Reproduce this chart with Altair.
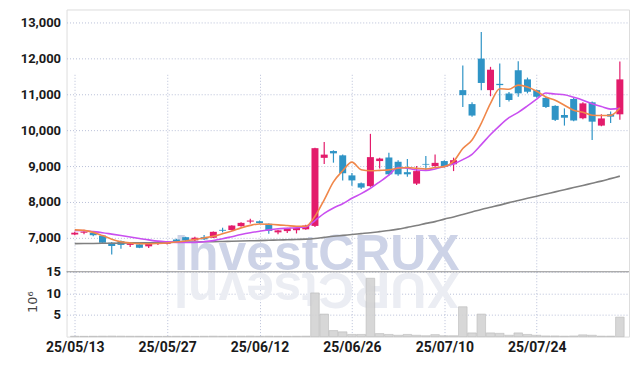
import altair as alt
import numpy as np
import pandas as pd

# ---- data ----
dates = [
    "25/05/13", "25/05/14", "25/05/15", "25/05/16", "25/05/19", "25/05/20", "25/05/21", "25/05/22", "25/05/23", "25/05/26",
    "25/05/27", "25/05/28", "25/05/29", "25/05/30", "25/06/02", "25/06/04", "25/06/05", "25/06/09", "25/06/10", "25/06/11",
    "25/06/12", "25/06/13", "25/06/16", "25/06/17", "25/06/18", "25/06/19", "25/06/20", "25/06/23", "25/06/24", "25/06/25",
    "25/06/26", "25/06/27", "25/06/30", "25/07/01", "25/07/02", "25/07/03", "25/07/04", "25/07/07", "25/07/08", "25/07/09",
    "25/07/10", "25/07/11", "25/07/14", "25/07/15", "25/07/16", "25/07/17", "25/07/18", "25/07/21", "25/07/22", "25/07/23",
    "25/07/24", "25/07/25", "25/07/28", "25/07/29", "25/07/30", "25/07/31", "25/08/01", "25/08/04", "25/08/05", "25/08/06",
]
opens = [7090, 7140, 7140, 7060, 6860, 6905, 6800, 6815, 6760, 6830,
         6830, 6950, 7015, 6925, 7015, 7000, 7220, 7215, 7325, 7450,
         7460, 7390, 7150, 7185, 7210, 7235, 7330, 9230, 9420, 9300,
         8740, 8520, 8440, 9140, 9240, 9120, 8830, 8510, 9060, 9000,
         9140, 9050, 11120, 10730, 12000, 11120, 11295, 11025, 11675, 11420,
         11120, 10905, 10680, 10425, 10870, 10335, 10780, 10130, 10450, 10445]
highs = [7170, 7220, 7160, 7070, 6880, 6920, 6880, 6840, 6870, 6880,
         6900, 6970, 7030, 7030, 7075, 7175, 7280, 7350, 7430, 7530,
         7480, 7400, 7220, 7280, 7290, 7360, 9510, 9670, 9440, 9320,
         8810, 8540, 9900, 9230, 9370, 9160, 9200, 9000, 9280, 9320,
         9160, 9235, 11810, 10780, 12740, 11770, 11860, 11070, 11925, 11470,
         11140, 10930, 10700, 10610, 10900, 10780, 10800, 10450, 10520, 11920]
lows = [7070, 7100, 7040, 6830, 6530, 6690, 6740, 6710, 6710, 6800,
        6810, 6870, 6900, 6910, 6940, 6990, 7150, 7200, 7310, 7400,
        7390, 7110, 7100, 7130, 7120, 7220, 7300, 9060, 9095, 8600,
        8450, 8360, 8420, 8930, 8740, 8730, 8700, 8470, 8900, 8980,
        8960, 8860, 10650, 10380, 11120, 10950, 10650, 10800, 10935, 11030,
        10910, 10620, 10260, 10130, 10250, 10310, 9730, 10110, 10200, 10290]
closes = [7140, 7170, 7070, 6860, 6770, 6800, 6840, 6720, 6850, 6850,
          6880, 6890, 6925, 7000, 6955, 7165, 7195, 7340, 7415, 7480,
          7410, 7190, 7205, 7265, 7275, 7340, 9500, 9320, 9355, 8800,
          8600, 8400, 9250, 9210, 8770, 8770, 8770, 8860, 9040, 9090,
          8975, 9165, 10980, 10410, 11320, 11690, 11260, 10845, 11030, 11075,
          10935, 10650, 10290, 10350, 10270, 10750, 10240, 10330, 10380, 11420]
volumes = [0.08, 0.06, 0.08, 0.1, 0.12, 0.1, 0.08, 0.08, 0.06, 0.05,
           0.06, 0.08, 0.08, 0.06, 0.08, 0.1, 0.08, 0.1, 0.1, 0.12,
           0.08, 0.1, 0.08, 0.06, 0.08, 0.1, 10.1, 5.2, 1.4, 1.1,
           0.5, 0.5, 13.5, 0.7, 0.5, 0.3, 0.5, 0.3, 0.2, 0.45,
           0.2, 0.2, 6.9, 0.85, 5.2, 0.85, 0.75, 0.3, 0.85, 0.5,
           0.3, 0.15, 0.15, 0.1, 0.15, 0.4, 0.3, 0.1, 0.1, 4.5]
ma_short = [7220, 7205, 7150, 7060, 6960, 6890, 6855, 6835, 6830, 6840,
            6855, 6880, 6910, 6950, 6995, 7040, 7110, 7185, 7275, 7345,
            7385, 7375, 7360, 7340, 7320, 7320, 7600, 8060, 8560, 8870,
            9110, 8900, 8870, 8880, 8895, 8940, 8960, 8940, 8920, 8960,
            8985, 9130, 9490, 9730, 10195, 10750, 11160, 11145, 11260, 11210,
            11090, 10930, 10840, 10700, 10560, 10500, 10420, 10410, 10415, 10620]
ma_mid = [7200, 7195, 7170, 7140, 7100, 7060, 7020, 6980, 6940, 6905,
          6885, 6870, 6865, 6870, 6890, 6920, 6970, 7030, 7090, 7140,
          7180, 7220, 7250, 7265, 7280, 7300, 7480, 7680, 7830, 7950,
          8100, 8230, 8380, 8560, 8750, 8960, 8940, 8890, 8880, 8920,
          8990, 9060, 9180, 9330, 9600, 9880, 10130, 10350, 10500, 10680,
          10870, 11040, 11010, 10990, 10920, 10840, 10740, 10660, 10590, 10610]
ma_long = [6835, 6838, 6841, 6844, 6847, 6850, 6854, 6858, 6862, 6866,
           6870, 6874, 6878, 6882, 6886, 6890, 6896, 6902, 6908, 6914,
           6920, 6928, 6936, 6944, 6952, 6960, 6980, 7010, 7040, 7065,
           7090, 7115, 7140, 7170, 7200, 7240, 7290, 7340, 7400, 7450,
           7520, 7580, 7650, 7720, 7790, 7850, 7910, 7980, 8040, 8100,
           8160, 8220, 8280, 8340, 8400, 8460, 8520, 8580, 8650, 8720]
tick_idx = [0, 10, 20, 30, 40, 50]
price_ticks = [7000, 8000, 9000, 10000, 11000, 12000, 13000]
vol_ticks = [5, 10, 15]

df = pd.DataFrame({
    "i": list(range(len(dates))), "date": dates,
    "open": opens, "high": highs, "low": lows, "close": closes,
    "vol": volumes, "ma5": ma_short, "ma20": ma_mid, "ma120": ma_long,
})
df["dir"] = np.where(df["close"] >= df["open"], "up", "down")

# ---- styling ----
W, H = 564, 328
PB = 263  # bottom of price panel (plot coords)
LABEL_FONT = "Roboto"
GRID = "#b9c0d8"
UP, DOWN = "#e31c6b", "#2f94c6"

label_arr = "[" + ",".join("'%s'" % d for d in dates) + "]"
xscale = alt.Scale(domain=[-0.35, 59.45], nice=False, zero=False)
xaxis = alt.Axis(values=tick_idx, labelExpr=label_arr + "[datum.value]", title=None,
                 grid=True, gridColor=GRID, gridDash=[1, 2], ticks=False, domain=False,
                 labelFont=LABEL_FONT, labelFontSize=14, labelFontWeight="bold",
                 labelColor="#1a1a1a", labelPadding=4)
X = alt.X("i:Q", scale=xscale, axis=xaxis)

pscale = alt.Scale(domain=[6050, 13371], range=[PB, 0], nice=False, zero=False)
paxis = alt.Axis(values=price_ticks, format=",.0f", title=None, orient="left",
                 grid=True, gridColor=GRID, gridDash=[1, 2], ticks=False, domain=False,
                 labelFont=LABEL_FONT, labelFontSize=13, labelFontWeight="bold",
                 labelColor="#1a1a1a", labelPadding=6)
vscale = alt.Scale(domain=[0, 15], range=[H, PB], nice=False, zero=True)
vaxis = alt.Axis(values=vol_ticks, format=".0f", title="10⁶", orient="left",
                 grid=True, gridColor=GRID, gridDash=[1, 2], ticks=False, domain=False,
                 labelFont=LABEL_FONT, labelFontSize=13, labelFontWeight="bold",
                 labelColor="#1a1a1a", labelPadding=6,
                 titleFont="DejaVu Sans", titleFontSize=13, titleFontWeight="normal",
                 titleColor="#444", titleAngle=270, titleX=-34, titleY=293,
                 titleAlign="center", titleBaseline="middle")
color = alt.Color("dir:N", scale=alt.Scale(domain=["up", "down"], range=[UP, DOWN]), legend=None)

base = alt.Chart(df)

wm_df = pd.DataFrame({"t": ["InvestCRUX"], "r": ["XURCtsevnI"]})
wm = alt.Chart(wm_df).mark_text(font="Liberation Sans", fontSize=50, fontWeight="bold",
                                color="#cdd3e7", align="center", baseline="alphabetic").encode(
    text="t:N", x=alt.value(251), y=alt.value(261.5))
wm_ref = alt.Chart(wm_df).mark_text(font="Liberation Sans", fontSize=50, fontWeight="bold",
                                    color="#ebedf3", align="center", baseline="alphabetic",
                                    angle=180).encode(
    text="r:N", x=alt.value(251), y=alt.value(264.5))

PY = lambda f: alt.Y(f, scale=pscale, axis=paxis)
wick = base.mark_rule(strokeWidth=1.2).encode(x=X, y=PY("low:Q"), y2="high:Q", color=color)
body = base.mark_bar(size=7).encode(x=X, y=PY("open:Q"), y2="close:Q", color=color)
l_long = base.mark_line(color="#808080", strokeWidth=1.6, interpolate="monotone").encode(x=X, y=PY("ma120:Q"))
l_mid = base.mark_line(color="#c94ff0", strokeWidth=1.6, interpolate="monotone").encode(x=X, y=PY("ma20:Q"))
l_short = base.mark_line(color="#f0874a", strokeWidth=1.6, interpolate="monotone").encode(x=X, y=PY("ma5:Q"))
price = alt.layer(wick, body, l_long, l_mid, l_short)

VY = lambda f: alt.Y(f, scale=vscale, axis=vaxis)
vbar = base.mark_bar(size=8.6, color="#d3d3d3", stroke="#b3b3b3", strokeWidth=0.6, opacity=0.9).encode(
    x=X, y=VY("vol:Q"))
sep = alt.Chart(pd.DataFrame({"vol": [15]})).mark_rule(color="#8f8f8f", strokeWidth=1).encode(y=VY("vol:Q"))
vol = alt.layer(vbar, sep)

chart = alt.layer(wm, wm_ref, price, vol).resolve_scale(y="independent").properties(
    width=W, height=H,
    padding={"left": 58.7, "top": 1, "right": 2, "bottom": 28},
    autosize=alt.AutoSizeParams(type="none"),
).configure_view(stroke="#d6d6d6", strokeWidth=1).configure(background="white")

chart.save("out.html", embed_options={"renderer": "svg", "actions": False})
